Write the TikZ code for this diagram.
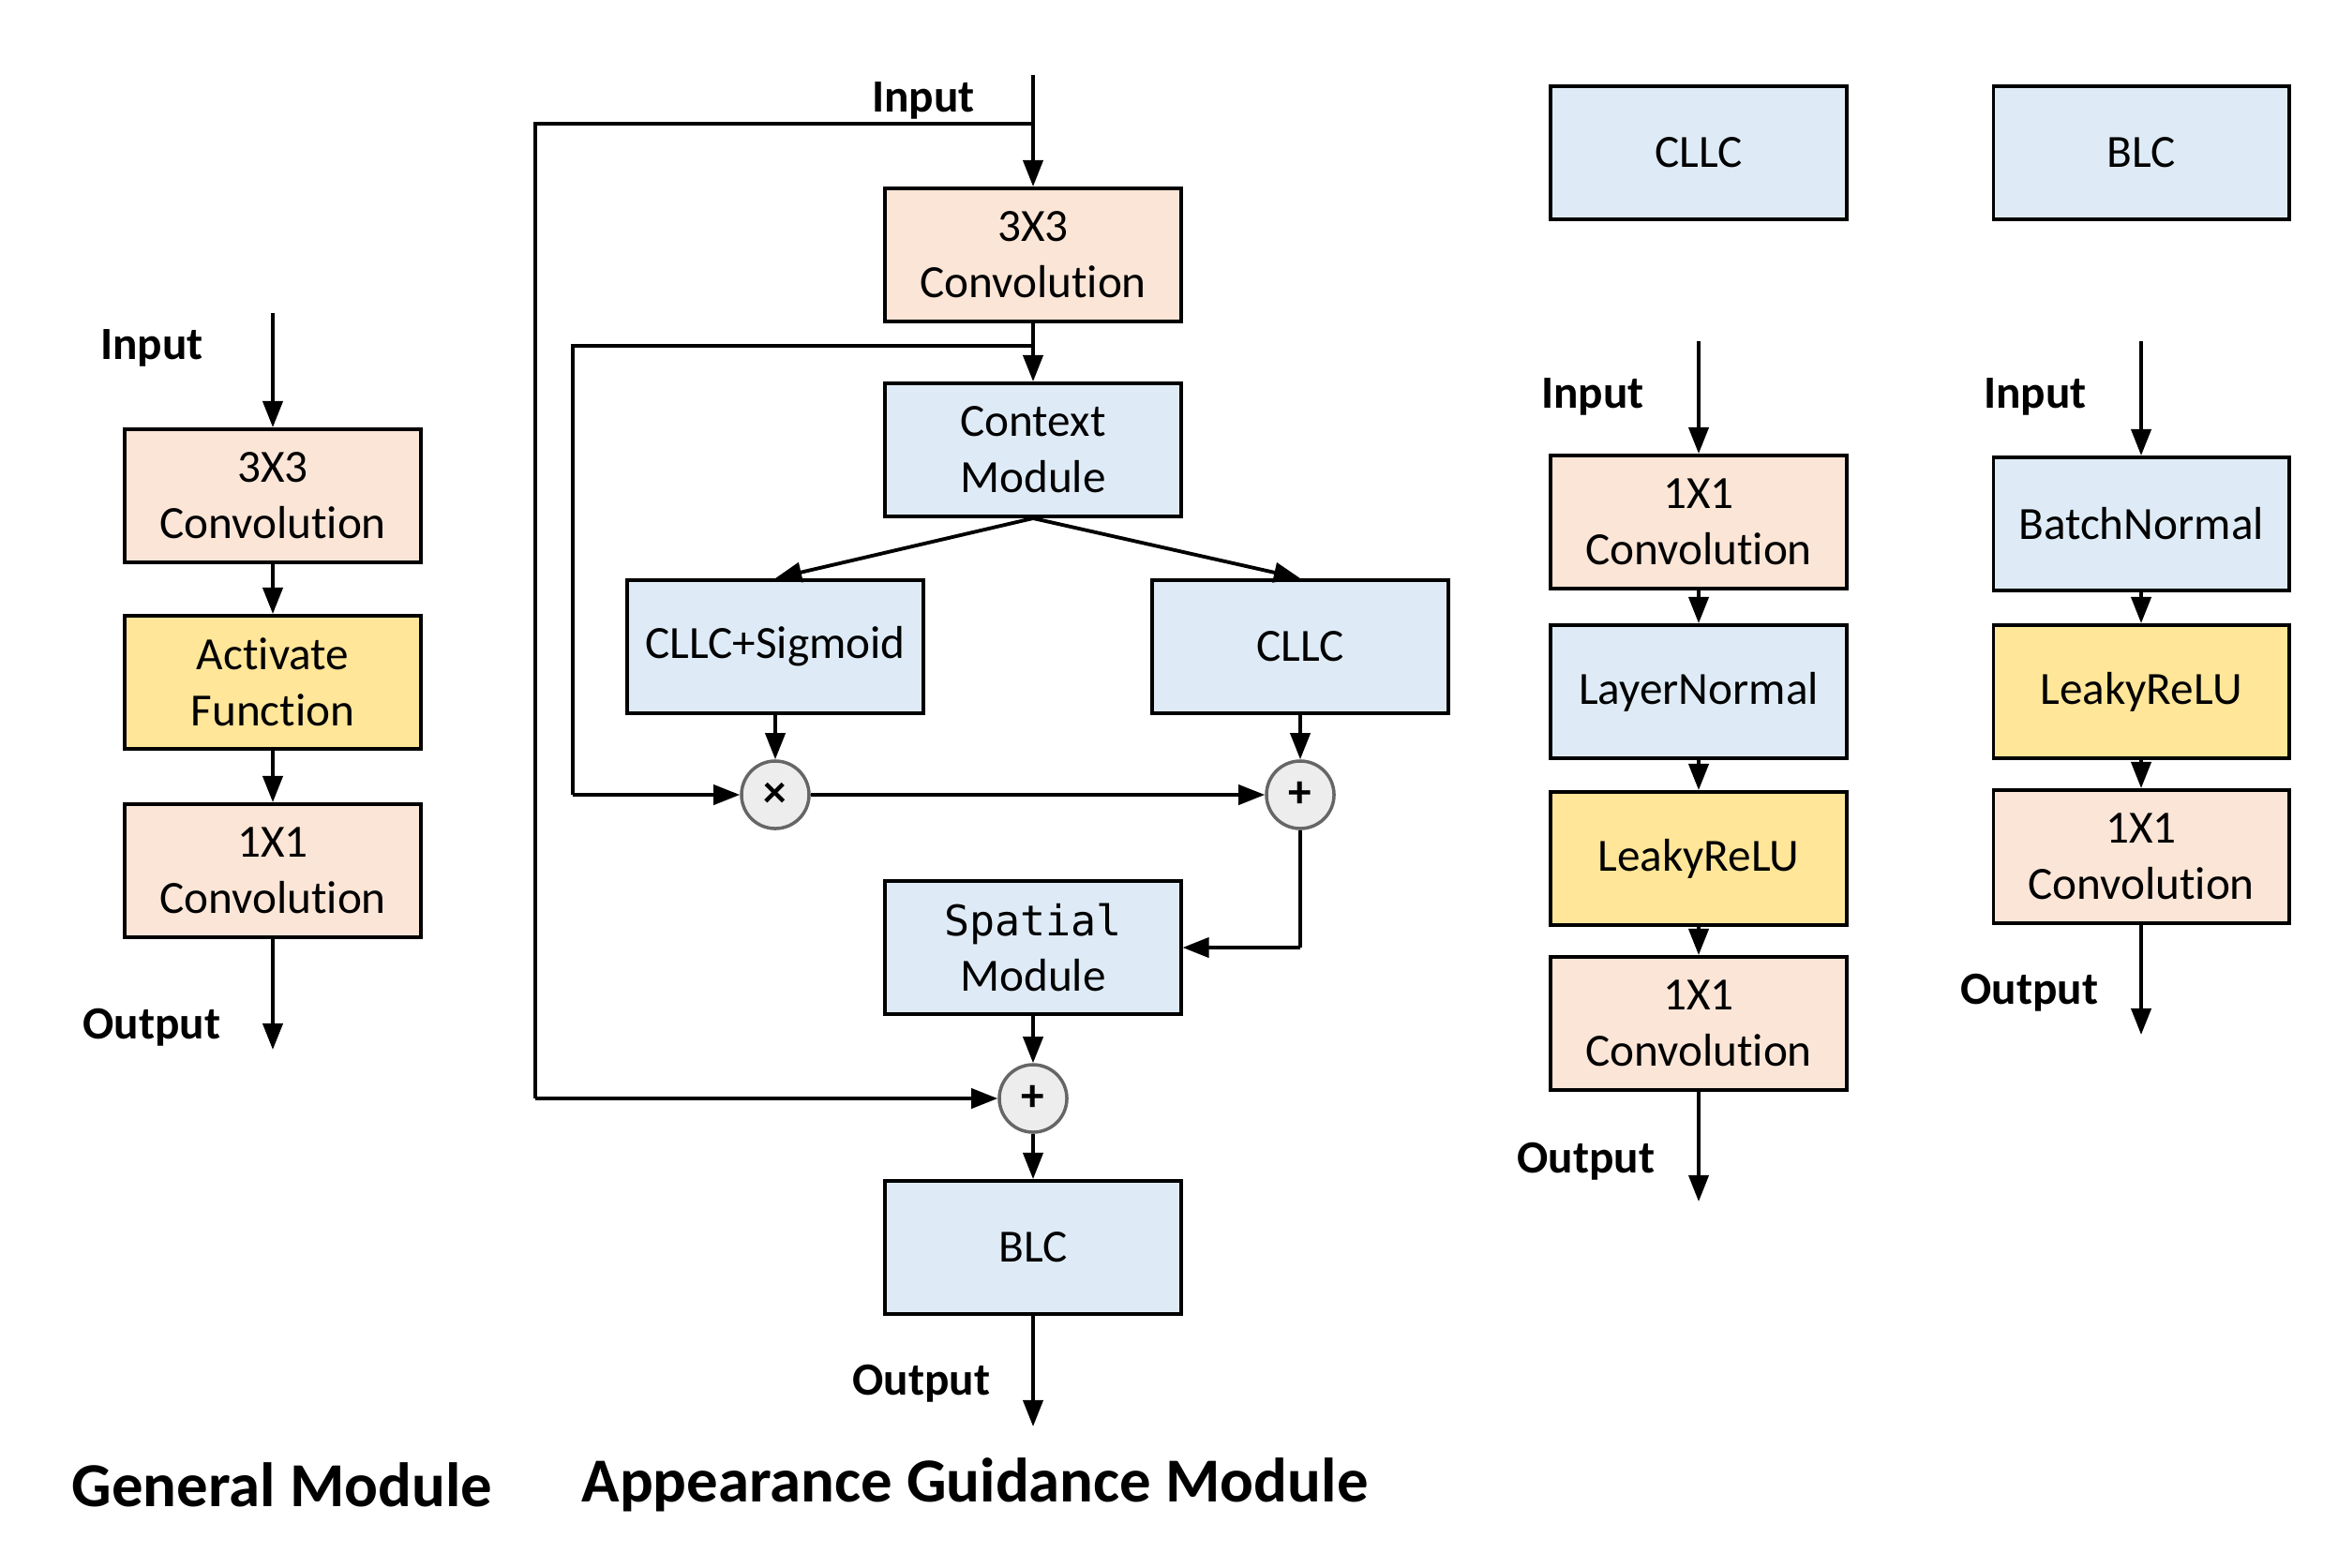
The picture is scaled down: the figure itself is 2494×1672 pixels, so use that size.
\documentclass[tikz,border=0pt]{standalone}
\usepackage{fontspec}
\setmainfont[Ligatures=NoCommon]{Carlito}
\newfontfamily\monofnt{DejaVu Sans Mono}
\usetikzlibrary{arrows.meta}
\definecolor{peach}{HTML}{FBE5D6}
\definecolor{lblue}{HTML}{DEEBF7}
\definecolor{lyellow}{HTML}{FFE699}
\definecolor{cfill}{HTML}{EDEDED}
\definecolor{cdraw}{HTML}{666666}
\begin{document}
\begin{tikzpicture}[x=0.01cm,y=-0.01cm,
  box/.style={draw=black,line width=1.1pt,minimum width=3.15cm,minimum height=1.42cm,
    inner sep=0pt,align=center,font=\fontsize{14}{17}\selectfont},
  pbox/.style={box,fill=peach},
  bbox/.style={box,fill=lblue},
  ybox/.style={box,fill=lyellow},
  opc/.style={circle,draw=cdraw,fill=cfill,line width=1pt,minimum size=0.72cm,inner sep=0pt,
    font=\fontsize{14}{17}\selectfont\bfseries},
  lbl/.style={font=\fontsize{14}{17}\selectfont\bfseries},
  ttl/.style={font=\fontsize{19}{23}\selectfont\bfseries},
  arr/.style={line width=1.1pt,-{Triangle[length=8pt,width=6pt]}},
  ln/.style={line width=1.1pt}]
\useasboundingbox (0,0) rectangle (2494,1672);

% General Module
\node[pbox] (g1) at (291,529) {3X3\\Convolution};
\node[ybox] (g2) at (291,728) {Activate\\Function};
\node[pbox] (g3) at (291,929) {1X1\\Convolution};
\coordinate (gin) at (291,334);
\coordinate (gout) at (291,1120);
\node[lbl] (gil) at (162,371) {Input};
\node[lbl] (gol) at (162,1096) {Output};
\draw[arr] (gin) -- (g1);
\draw[arr] (g1) -- (g2);
\draw[arr] (g2) -- (g3);
\draw[arr] (g3) -- (gout);
\node[ttl] (gt) at (301,1584) {General Module};

% Appearance Guidance Module
\node[pbox] (a1) at (1102,272) {3X3\\Convolution};
\node[bbox] (ctx) at (1102,480) {Context\\Module};
\node[bbox] (cs) at (827,690) {CLLC+Sigmoid};
\node[bbox] (cl) at (1387,690) {CLLC};
\node[opc] (mul) at (827,848) {×};
\node[opc] (add1) at (1387,848) {+};
\node[bbox] (sp) at (1102,1011) {{\monofnt\fontsize{12.8}{17}\selectfont Spatial}\\Module};
\node[opc] (add2) at (1102,1172) {+};
\node[bbox] (blc) at (1102,1331) {BLC};
\coordinate (ain) at (1102,80);
\coordinate (asplit) at (1102,132);
\coordinate (aout) at (1102,1522);
\coordinate (k1) at (571,132);
\coordinate (k2) at (571,1172);
\coordinate (bsplit) at (1102,369);
\coordinate (k3) at (611,369);
\coordinate (k4) at (611,848);
\coordinate (k5) at (1387,1011);
\node[lbl] (ail) at (985,107) {Input};
\node[lbl] (aol) at (983,1476) {Output};
\draw[arr] (ain) -- (a1);
\draw[ln] (asplit) -- (k1) -- (k2);
\draw[arr] (k2) -- (add2);
\draw[arr] (a1) -- (ctx);
\draw[ln] (bsplit) -- (k3) -- (k4);
\draw[arr] (k4) -- (mul);
\draw[arr] (ctx.south) -- (cs.north);
\draw[arr] (ctx.south) -- (cl.north);
\draw[arr] (cs) -- (mul);
\draw[arr] (cl) -- (add1);
\draw[arr] (mul) -- (add1);
\draw[ln] (add1) -- (k5);
\draw[arr] (k5) -- (sp.east |- k5);
\draw[arr] (sp) -- (add2);
\draw[arr] (add2) -- (blc);
\draw[arr] (blc) -- (aout);
\node[ttl] (at) at (1040,1584) {Appearance Guidance Module};

% CLLC definition
\node[bbox] (c0) at (1812,163) {CLLC};
\node[pbox] (c1) at (1812,557) {1X1\\Convolution};
\node[bbox] (c2) at (1812,738) {LayerNormal};
\node[ybox] (c3) at (1812,916) {LeakyReLU};
\node[pbox] (c4) at (1812,1092) {1X1\\Convolution};
\coordinate (cin) at (1812,364);
\coordinate (cout) at (1812,1282);
\node[lbl] (cil) at (1699,423) {Input};
\node[lbl] (col) at (1692,1239) {Output};
\draw[arr] (cin) -- (c1);
\draw[arr] (c1) -- (c2);
\draw[arr] (c2) -- (c3);
\draw[arr] (c3) -- (c4);
\draw[arr] (c4) -- (cout);

% BLC definition
\node[bbox] (b0) at (2284,163) {BLC};
\node[bbox] (b1) at (2284,559) {BatchNormal};
\node[ybox] (b2) at (2284,738) {LeakyReLU};
\node[pbox] (b3) at (2284,914) {1X1\\Convolution};
\coordinate (bin) at (2284,364);
\coordinate (bout) at (2284,1104);
\node[lbl] (bil) at (2171,423) {Input};
\node[lbl] (bol) at (2165,1059) {Output};
\draw[arr] (bin) -- (b1);
\draw[arr] (b1) -- (b2);
\draw[arr] (b2) -- (b3);
\draw[arr] (b3) -- (bout);
\end{tikzpicture}
\end{document}
